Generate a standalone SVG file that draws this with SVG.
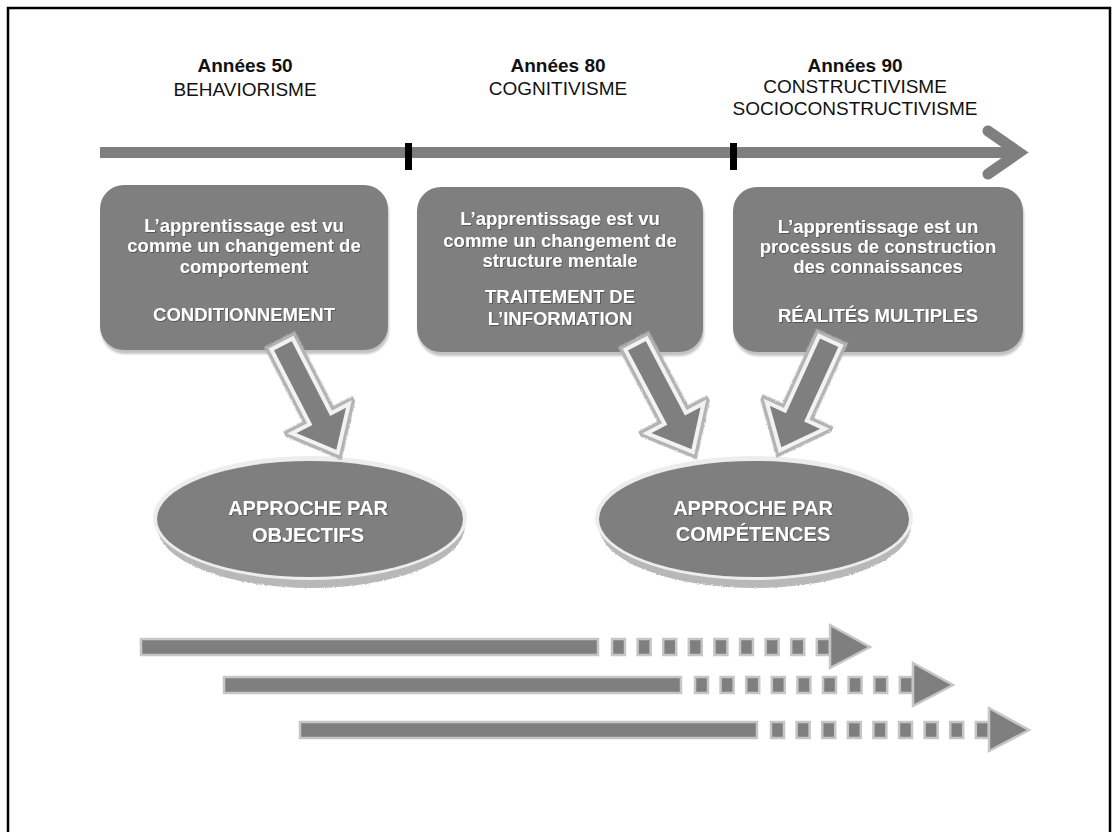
<svg xmlns="http://www.w3.org/2000/svg" xmlns:xlink="http://www.w3.org/1999/xlink" width="1113" height="832" viewBox="0 0 1113 832">
  <style>
    .title { font-family: "Liberation Sans", Arial, sans-serif; font-size: 19px; fill: #111; text-anchor: middle; }
    .b { font-weight: bold; }
    .boxtxt { font-family: "Liberation Sans", Arial, sans-serif; font-size: 18.5px; font-weight: bold; fill: #fff; text-anchor: middle; filter: url(#tshadow); }
    .elltxt { font-family: "Liberation Sans", Arial, sans-serif; font-size: 20px; font-weight: bold; fill: #fff; text-anchor: middle; filter: url(#tshadow); }
    .box { fill: #7f7f7f; }
    .boxshadow { fill: #c2c2c2; filter: url(#blur); }
    .arrow-out { fill: none; stroke: #b3b3b3; stroke-width: 11; stroke-linejoin: miter; filter: url(#rough); }
    .arrow-in { fill: #7f7f7f; stroke: #f2f2f2; stroke-width: 4; stroke-linejoin: miter; }
    .ell-shadow { fill: #b8b8b8; filter: url(#rough); }
    .ell-rim { fill: #ededed; }
    .ell { fill: #7f7f7f; }
    .tl { fill: #7f7f7f; stroke: #c6c6c6; stroke-width: 2.5; }
  </style>
  <defs>
    <filter id="rough" x="-10%" y="-10%" width="120%" height="120%">
      <feTurbulence type="fractalNoise" baseFrequency="0.9" numOctaves="1" result="n"/>
      <feDisplacementMap in="SourceGraphic" in2="n" scale="3" xChannelSelector="R" yChannelSelector="G"/>
    </filter>
    <filter id="blur" x="-5%" y="-5%" width="110%" height="110%">
      <feGaussianBlur stdDeviation="1.2"/>
    </filter>
    <filter id="tshadow" x="-5%" y="-20%" width="110%" height="140%">
      <feDropShadow dx="0.8" dy="0.8" stdDeviation="0.4" flood-color="#333" flood-opacity="0.7"/>
    </filter>
    <g id="tlarrow">
      <rect class="tl" x="0" y="-8" width="457" height="16"/>
      <rect class="tl" x="471" y="-8" width="13" height="16"/>
      <rect class="tl" x="496.6" y="-8" width="13" height="16"/>
      <rect class="tl" x="522.2" y="-8" width="13" height="16"/>
      <rect class="tl" x="547.8" y="-8" width="13" height="16"/>
      <rect class="tl" x="573.4" y="-8" width="13" height="16"/>
      <rect class="tl" x="599" y="-8" width="13" height="16"/>
      <rect class="tl" x="624.6" y="-8" width="13" height="16"/>
      <rect class="tl" x="650.2" y="-8" width="13" height="16"/>
      <rect class="tl" x="675.8" y="-8" width="13" height="16"/>
      <path class="tl" d="M689,-22 L729,0 L689,21 Z"/>
    </g>
  </defs>

  <rect x="0" y="0" width="1113" height="832" fill="#fff"/>
  <rect x="8" y="8" width="1102" height="840" fill="none" stroke="#000" stroke-width="2.5"/>

  <!-- Timeline -->
  <g id="timeline">
    <line x1="100" y1="152.5" x2="1018" y2="152.5" stroke="#7f7f7f" stroke-width="11"/>
    <polyline points="988,131 1019,152.5 988,174" fill="none" stroke="#7f7f7f" stroke-width="11" stroke-linejoin="miter" stroke-linecap="round"/>
    <rect x="405" y="143" width="7" height="27" fill="#000"/>
    <rect x="730" y="143" width="7" height="27" fill="#000"/>
  </g>

  <g id="era50">
    <text class="title b" x="245" y="72">Années 50</text>
    <text class="title" x="245" y="96">BEHAVIORISME</text>
  </g>
  <g id="era80">
    <text class="title b" x="558" y="72">Années 80</text>
    <text class="title" x="558" y="95">COGNITIVISME</text>
  </g>
  <g id="era90">
    <text class="title b" x="855" y="72">Années 90</text>
    <text class="title" x="855" y="93">CONSTRUCTIVISME</text>
    <text class="title" x="855" y="115">SOCIOCONSTRUCTIVISME</text>
  </g>

  <!-- Boxes -->
  <g id="box1">
    <rect class="boxshadow" x="101" y="189" width="288" height="165" rx="24"/>
    <rect class="box" x="100" y="185" width="288" height="165" rx="24"/>
    <text class="boxtxt" x="244" y="232">L’apprentissage est vu</text>
    <text class="boxtxt" x="244" y="252">comme un changement de</text>
    <text class="boxtxt" x="244" y="272.5">comportement</text>
    <text class="boxtxt" x="244" y="320.5">CONDITIONNEMENT</text>
  </g>
  <g id="box2">
    <rect class="boxshadow" x="418" y="191" width="286" height="165" rx="24"/>
    <rect class="box" x="417" y="187" width="286" height="165" rx="24"/>
    <text class="boxtxt" x="560" y="225">L’apprentissage est vu</text>
    <text class="boxtxt" x="560" y="246.5">comme un changement de</text>
    <text class="boxtxt" x="560" y="267">structure mentale</text>
    <text class="boxtxt" x="560" y="303">TRAITEMENT DE</text>
    <text class="boxtxt" x="560" y="325">L’INFORMATION</text>
  </g>
  <g id="box3">
    <rect class="boxshadow" x="734" y="191" width="290" height="165" rx="24"/>
    <rect class="box" x="733" y="187" width="290" height="165" rx="24"/>
    <text class="boxtxt" x="878" y="232.5">L’apprentissage est un</text>
    <text class="boxtxt" x="878" y="252.5">processus de construction</text>
    <text class="boxtxt" x="878" y="273">des connaissances</text>
    <text class="boxtxt" x="878" y="321.5">RÉALITÉS MULTIPLES</text>
  </g>

  <!-- Ellipses -->
  <g id="ellipse1">
    <ellipse class="ell-shadow" cx="311" cy="526" rx="154" ry="62"/>
    <ellipse class="ell-rim" cx="310" cy="518" rx="157" ry="62"/>
    <ellipse class="ell" cx="310" cy="519" rx="153" ry="58"/>
    <text class="elltxt" x="308" y="515">APPROCHE PAR</text>
    <text class="elltxt" x="308" y="542">OBJECTIFS</text>
  </g>
  <g id="ellipse2">
    <ellipse class="ell-shadow" cx="755" cy="526" rx="156" ry="62"/>
    <ellipse class="ell-rim" cx="754" cy="518" rx="159" ry="62"/>
    <ellipse class="ell" cx="754" cy="519" rx="155" ry="58"/>
    <text class="elltxt" x="753" y="515">APPROCHE PAR</text>
    <text class="elltxt" x="753" y="541">COMPÉTENCES</text>
  </g>

  <!-- Connectors -->
  <g id="connectors">
    <g transform="translate(282,344) rotate(62.8)">
      <path class="arrow-out" d="M0,-12 L84,-12 L84,-32 L122,0 L84,32 L84,12 L0,12 Z"/>
      <path class="arrow-in" d="M0,-12 L84,-12 L84,-32 L122,0 L84,32 L84,12 L0,12 Z"/>
    </g>
    <g transform="translate(636,344) rotate(62.2)">
      <path class="arrow-out" d="M0,-12 L84,-12 L84,-32 L122,0 L84,32 L84,12 L0,12 Z"/>
      <path class="arrow-in" d="M0,-12 L84,-12 L84,-32 L122,0 L84,32 L84,12 L0,12 Z"/>
    </g>
    <g transform="translate(830,341) rotate(114.6)">
      <path class="arrow-out" d="M0,-12 L82,-12 L82,-32 L120,0 L82,32 L82,12 L0,12 Z"/>
      <path class="arrow-in" d="M0,-12 L82,-12 L82,-32 L120,0 L82,32 L82,12 L0,12 Z"/>
    </g>
  </g>

  <!-- Bottom timeline arrows -->
  <g id="continuity">
    <use xlink:href="#tlarrow" transform="translate(141,647)"/>
    <use xlink:href="#tlarrow" transform="translate(224,685)"/>
    <use xlink:href="#tlarrow" transform="translate(300,730)"/>
  </g>
</svg>
